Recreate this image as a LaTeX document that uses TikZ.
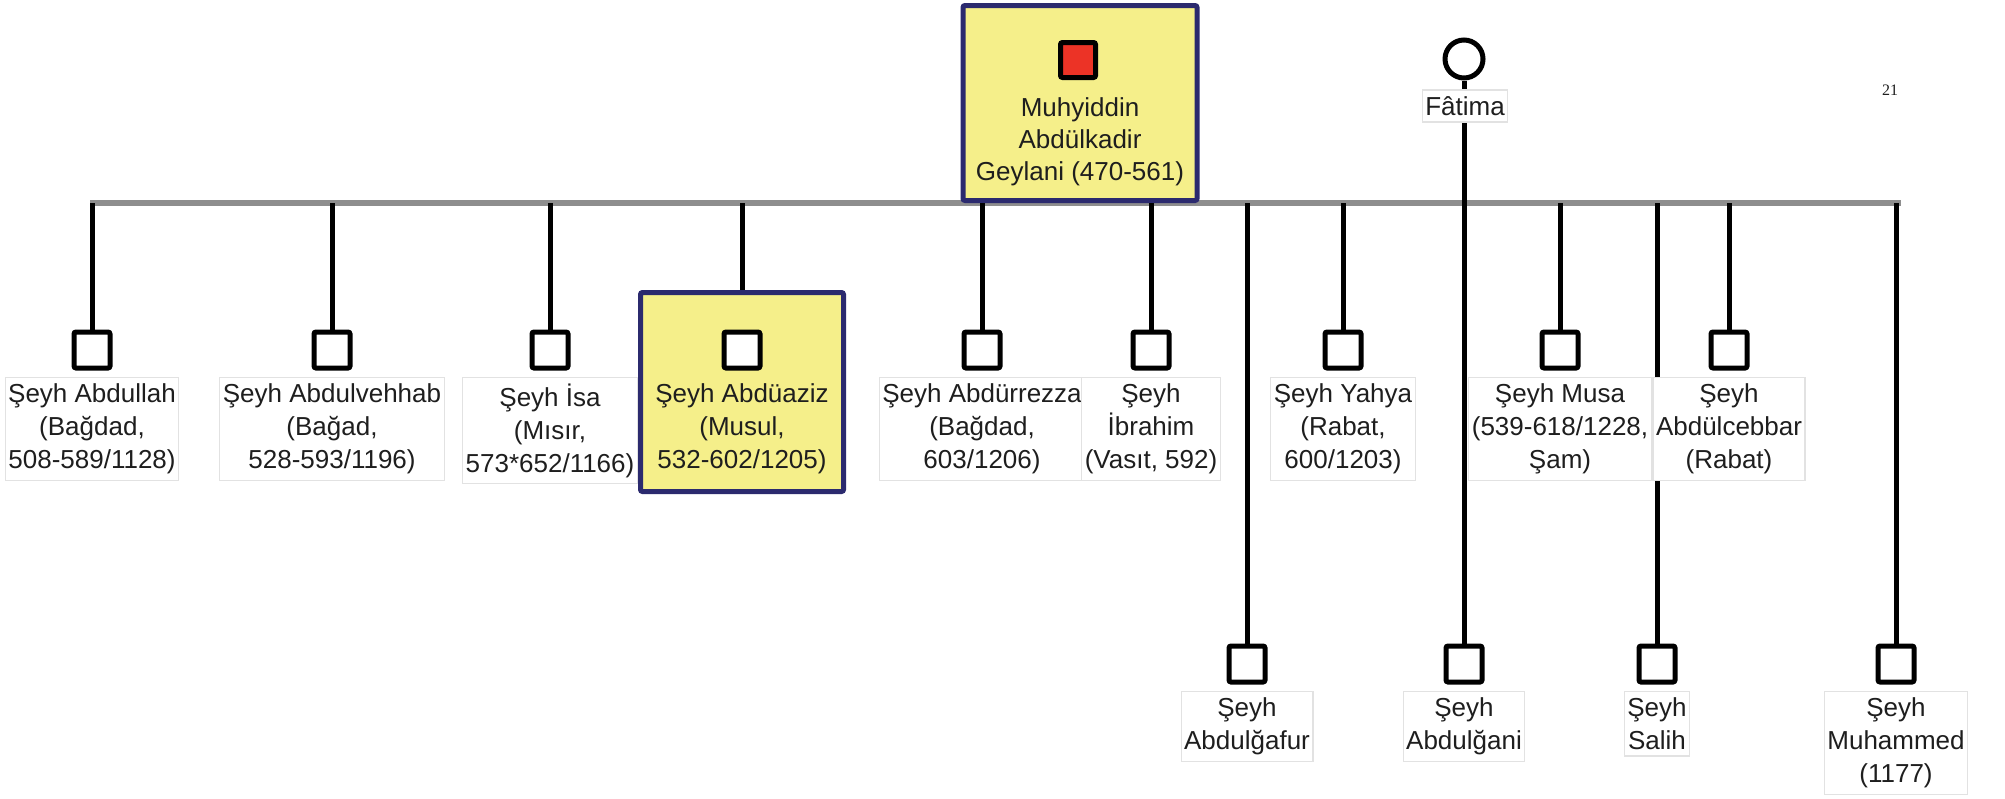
\documentclass[tikz,border=0pt]{standalone}
\usepackage{fontspec}
\setmainfont{Liberation Sans}
\newfontfamily\pagefont{Liberation Serif}
\usetikzlibrary{positioning}
\definecolor{hlyellow}{HTML}{F5EF8A}
\definecolor{hlnavy}{HTML}{2B2A6E}
\definecolor{malered}{HTML}{EC3326}
\definecolor{bargray}{HTML}{8E8E8E}
\definecolor{lblframe}{HTML}{E2E2E2}
\definecolor{ink}{HTML}{1E1E1E}
\begin{document}
\begin{tikzpicture}[x=0.5pt,y=-0.5pt,
    male/.style={draw,line width=2.5pt,minimum size=18pt,inner sep=0pt,rounded corners=1pt,fill=white},
    fem/.style={draw,circle,line width=2.5pt,minimum size=19pt,inner sep=0pt,fill=white},
    lbl/.style={draw=lblframe,fill=white,line width=0.6pt,align=center,text=ink,font=\fontsize{13}{16.5}\selectfont,inner xsep=1.5pt,inner ysep=3.2pt},
    hl/.style={draw=hlnavy,fill=hlyellow,line width=2.5pt,rounded corners=1pt},
    kid/.style={line width=2.5pt},
    bar/.style={line width=3pt,bargray},
    node distance=3pt]
                \useasboundingbox (0,0) rectangle (2005,798);
                \coordinate(barL) at (90,203);
                \coordinate(barR) at (1901,203);
                \draw[bar](barL) -- (barR);
                \node[hl,minimum width=117pt,minimum height=97.5pt](top) at (1080,103){};
                \node[male,fill=malered,minimum size=17.5pt](gey) at (1078,60){};
                \node[align=center,text=ink,font=\fontsize{13}{16}\selectfont](geyl) at (1080,142){Muhyiddin\\Abdülkadir\\Geylani (470-561)};
                \node[fem](fat) at (1464,59){};
                \node[hl,minimum width=101.5pt,minimum height=99.5pt](hl4) at (742,392){};
                \node[male](s1) at (92,350){};
                \node[male](s2) at (332,350){};
                \node[male](s3) at (550,350){};
                \node[male](s4) at (742,350){};
                \node[male](s5) at (982,350){};
                \node[male](s6) at (1151,350){};
                \node[male](s7) at (1247,664){};
                \node[male](s8) at (1343,350){};
                \node[male](s9) at (1464,664){};
                \node[male](s10) at (1560,350){};
                \node[male](s11) at (1657,664){};
                \node[male](s12) at (1729,350){};
                \node[male](s13) at (1896,664){};
                \draw[kid](s1 |- barL) -- (s1);
                \draw[kid](s2 |- barL) -- (s2);
                \draw[kid](s3 |- barL) -- (s3);
                \draw[kid](hl4 |- barL) -- (hl4);
                \draw[kid](s5 |- barL) -- (s5);
                \draw[kid](s6 |- barL) -- (s6);
                \draw[kid](s7 |- barL) -- (s7);
                \draw[kid](s8 |- barL) -- (s8);
                \draw[kid](fat) -- (s9);
                \draw[kid](s10 |- barL) -- (s10);
                \draw[kid](s11 |- barL) -- (s11);
                \draw[kid](s12 |- barL) -- (s12);
                \draw[kid](s13 |- barL) -- (s13);
                \node[lbl](fatl) at (1465,106){Fâtima};
                \node[lbl,below=of s1](l1){Şeyh Abdullah\\(Bağdad,\\508-589/1128)};
                \node[lbl,below=of s2](l2){Şeyh Abdulvehhab\\(Bağad,\\528-593/1196)};
                \node[lbl,below=of s3](l3){Şeyh İsa\\(Mısır,\\573*652/1166)};
                \node[lbl,below=of s4,fill=hlyellow,draw=none](l4){Şeyh Abdüaziz\\(Musul,\\532-602/1205)};
                \node[lbl,below=of s5](l5){Şeyh Abdürrezza\\(Bağdad,\\603/1206)};
                \node[lbl,below=of s6](l6){Şeyh\\İbrahim\\(Vasıt, 592)};
                \node[lbl,below=of s8](l8){Şeyh Yahya\\(Rabat,\\600/1203)};
                \node[lbl,below=of s10](l10){Şeyh Musa\\(539-618/1228,\\Şam)};
                \node[lbl,below=of s12](l12){Şeyh\\Abdülcebbar\\(Rabat)};
                \node[lbl,below=of s7](l7){Şeyh\\Abdulğafur};
                \node[lbl,below=of s9](l9){Şeyh\\Abdulğani};
                \node[lbl,below=of s11](l11){Şeyh\\Salih};
                \node[lbl,below=of s13](l13){Şeyh\\Muhammed\\(1177)};
                \node[text=ink,font=\pagefont\fontsize{8}{9}\selectfont](pg) at (1890,90){21};
            \end{tikzpicture}
\end{document}
